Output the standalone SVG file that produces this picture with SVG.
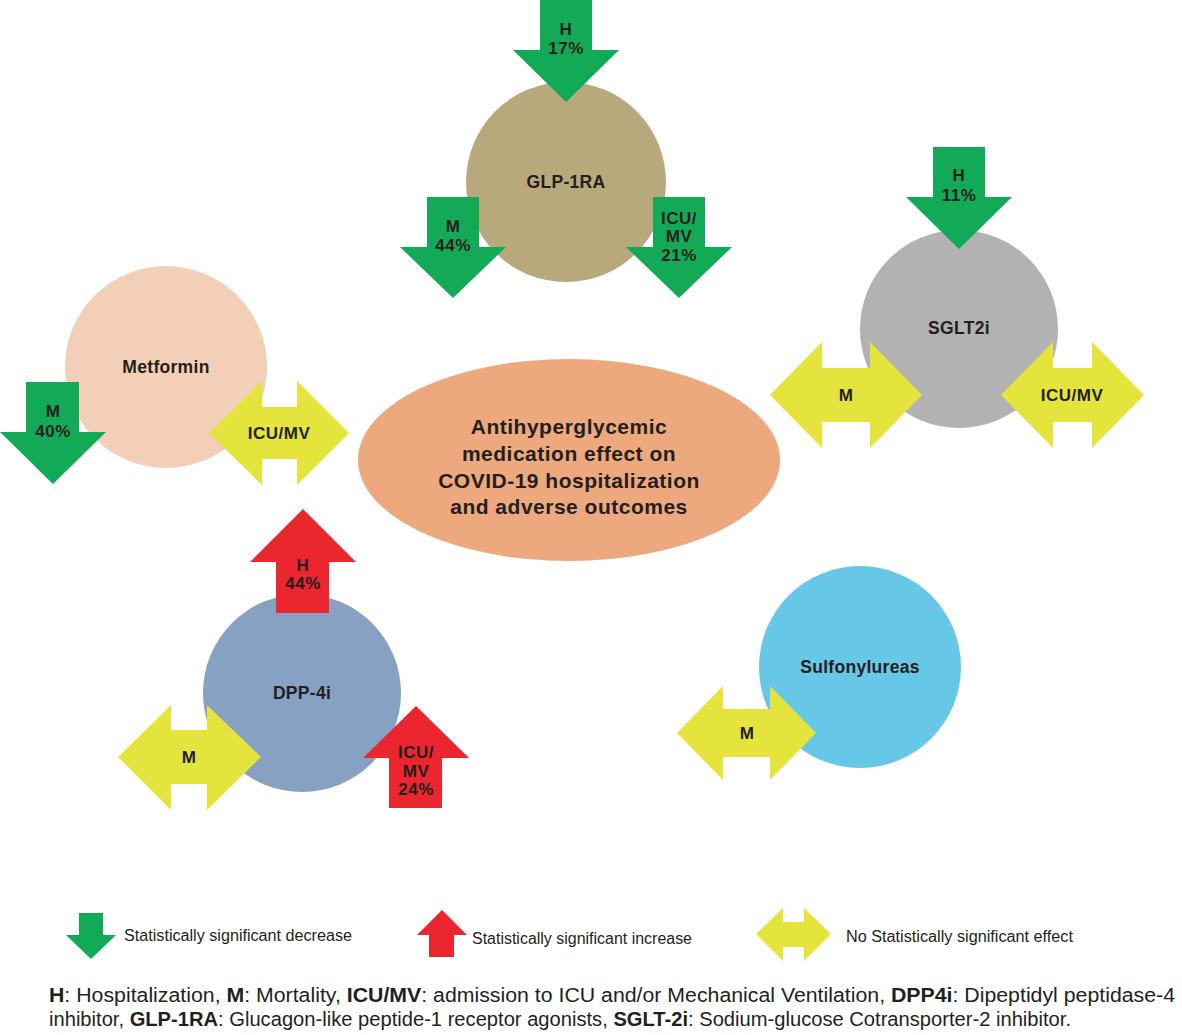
<svg xmlns="http://www.w3.org/2000/svg" width="1182" height="1035" viewBox="0 0 1182 1035">
<style>
.lbl{font-family:"Liberation Sans",Arial,sans-serif;font-weight:bold;font-size:17.5px;fill:#231f20;text-anchor:middle;letter-spacing:0.3px}
.al{font-family:"Liberation Sans",Arial,sans-serif;font-weight:bold;font-size:17px;fill:#231f20;text-anchor:middle;letter-spacing:0.5px}
.ctr{font-family:"Liberation Sans",Arial,sans-serif;font-weight:bold;font-size:21px;fill:#231f20;text-anchor:middle;letter-spacing:0.5px}
.leg{font-family:"Liberation Sans",Arial,sans-serif;font-size:16px;fill:#231f20}
.foot{font-family:"Liberation Sans",Arial,sans-serif;font-size:20px;fill:#231f20}
.b{font-weight:bold}
.dn{fill:#12aa57}
.up{fill:#ec262f}
.ns{fill:#e4e43c}
</style>
<rect width="1182" height="1035" fill="#ffffff"/>

<g id="center">
<ellipse cx="569" cy="460" rx="211" ry="101" fill="#eda87d"/>
<text class="ctr" x="569" y="434">Antihyperglycemic</text>
<text class="ctr" x="569" y="461">medication effect on</text>
<text class="ctr" x="569" y="488">COVID-19 hospitalization</text>
<text class="ctr" x="569" y="514">and adverse outcomes</text>
</g>

<g id="glp1ra">
<circle cx="566" cy="182" r="100" fill="#b8a97c"/>
<text class="lbl" x="566" y="188">GLP-1RA</text>
<polygon class="dn" points="540,0 592,0 592,50 619,50 566,102 513,50 540,50"/>
<text class="al" x="566" y="35">H</text>
<text class="al" x="566" y="54">17%</text>
<polygon class="dn" points="427,197 479,197 479,247 506,247 453,298 400,247 427,247"/>
<text class="al" x="453" y="232">M</text>
<text class="al" x="453" y="251">44%</text>
<polygon class="dn" points="653,197 705,197 705,247 732,247 679,298 626,247 653,247"/>
<text class="al" x="679" y="224">ICU/</text>
<text class="al" x="679" y="242">MV</text>
<text class="al" x="679" y="261">21%</text>
</g>

<g id="sglt2i">
<circle cx="959" cy="329" r="99" fill="#b2b2b2"/>
<text class="lbl" x="959" y="334">SGLT2i</text>
<polygon class="dn" points="933,147 985,147 985,197 1012,197 959,249 906,197 933,197"/>
<text class="al" x="959" y="181">H</text>
<text class="al" x="959" y="201">11%</text>
<polygon class="ns" points="770,395 822,342 822,368 870,368 870,342 922,395 870,448 870,422 822,422 822,448"/>
<text class="al" x="846" y="401">M</text>
<polygon class="ns" points="1001,395 1053,342 1053,368 1092,368 1092,342 1144,395 1092,448 1092,422 1053,422 1053,448"/>
<text class="al" x="1072" y="401">ICU/MV</text>
</g>

<g id="metformin">
<circle cx="166" cy="367" r="101" fill="#f4cfb7"/>
<text class="lbl" x="166" y="373">Metformin</text>
<polygon class="dn" points="26,382 79,382 79,432 106,432 53,484 0,432 26,432"/>
<text class="al" x="53" y="417">M</text>
<text class="al" x="53" y="437">40%</text>
<polygon class="ns" points="209,433 262,381 262,407 297,407 297,381 349,433 297,485 297,459 262,459 262,485"/>
<text class="al" x="279" y="439">ICU/MV</text>
</g>

<g id="dpp4i">
<circle cx="302" cy="693" r="99" fill="#86a1c2"/>
<text class="lbl" x="302" y="699">DPP-4i</text>
<polygon class="up" points="276,613 329,613 329,562 356,562 303,509 250,562 276,562"/>
<text class="al" x="303" y="571">H</text>
<text class="al" x="303" y="589">44%</text>
<polygon class="ns" points="118,757 171,705 171,730 207,730 207,705 261,757 207,810 207,784 171,784 171,810"/>
<text class="al" x="189" y="763">M</text>
<polygon class="up" points="389,808 442,808 442,758 469,758 416,706 363,758 389,758"/>
<text class="al" x="416" y="758">ICU/</text>
<text class="al" x="416" y="777">MV</text>
<text class="al" x="416" y="795">24%</text>
</g>

<g id="sulfonylureas">
<circle cx="860" cy="667" r="101" fill="#67c7e7"/>
<text class="lbl" x="860" y="673">Sulfonylureas</text>
<polygon class="ns" points="677,733 723,686 723,709 770,709 770,686 816,733 770,780 770,757 723,757 723,780"/>
<text class="al" x="747" y="739">M</text>
</g>

<g id="connectors"></g>

<g id="legend">
<polygon class="dn" points="79,913 103,913 103,935 116,935 91,959 66,935 79,935"/>
<text class="leg" x="124" y="941" textLength="228" lengthAdjust="spacingAndGlyphs">Statistically significant decrease</text>
<polygon class="up" points="429,957 454,957 454,935 467,935 442,910 417,935 429,935"/>
<text class="leg" x="472" y="944" textLength="220" lengthAdjust="spacingAndGlyphs">Statistically significant increase</text>
<polygon class="ns" points="756,934 783,908 783,922 804,922 804,908 831,934 804,961 804,947 783,947 783,961"/>
<text class="leg" x="846" y="942" textLength="227" lengthAdjust="spacingAndGlyphs">No Statistically significant effect</text>
</g>

<g id="footnote">
<text class="foot" x="49" y="1002" textLength="1126" lengthAdjust="spacingAndGlyphs"><tspan class="b">H</tspan>: Hospitalization, <tspan class="b">M</tspan>: Mortality, <tspan class="b">ICU/MV</tspan>: admission to ICU and/or Mechanical Ventilation, <tspan class="b">DPP4i</tspan>: Dipeptidyl peptidase-4</text>
<text class="foot" x="49" y="1026" textLength="1022" lengthAdjust="spacingAndGlyphs">inhibitor, <tspan class="b">GLP-1RA</tspan>: Glucagon-like peptide-1 receptor agonists, <tspan class="b">SGLT-2i</tspan>: Sodium-glucose Cotransporter-2 inhibitor.</text>
</g>
</svg>
